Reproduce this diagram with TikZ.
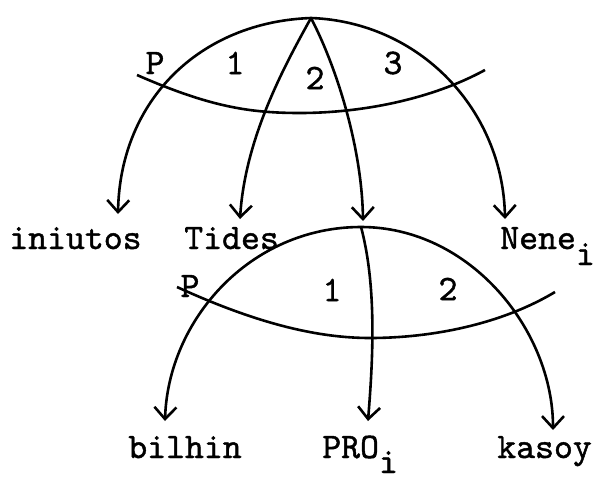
\documentclass[tikz,border=0pt]{standalone}
\usepackage{fontspec}
\newfontfamily\tw{lmmono10-regular}[Extension=.otf,FakeBold=1.2]
\usetikzlibrary{arrows.meta}
\begin{document}
\begin{tikzpicture}[x=1pt,y=-1pt,
  line width=2.6pt,
  arc/.style={draw=black},
  arr/.style={draw=black,-{Straight Barb[length=12pt,width=22pt,line width=2.6pt]}},
  word/.style={inner sep=0pt,anchor=base west,font=\fontsize{36}{38}\selectfont\tw},
  lab/.style={inner sep=0pt,anchor=center,font=\fontsize{36}{38}\selectfont\tw}]
\useasboundingbox (0,0) rectangle (597,477);
% top structure
\coordinate (A) at (311,18);
\coordinate (t1) at (118,214);
\coordinate (t2) at (240,219);
\coordinate (t3) at (363,221);
\coordinate (t4) at (505,219);
\coordinate (c1s) at (137,75);
\coordinate (c1m) at (300,113);
\coordinate (c1e) at (485,70);
\draw[arr] (A) .. controls (200,22) and (120,100) .. (t1);
\draw[arr] (A) .. controls (282,70) and (245,140) .. (t2);
\draw[arr] (A) .. controls (338,70) and (362,150) .. (t3);
\draw[arr] (A) .. controls (420,22) and (503,110) .. (t4);
\draw[arc] (c1s) .. controls (210,107) and (250,113) .. (c1m) .. controls (360,113) and (430,100) .. (c1e);
\node[lab] (p1) at (155,63) {P};
\node[lab] (n11) at (235,63) {1};
\node[lab] (n12) at (315,78) {2};
\node[lab] (n13) at (393,63) {3};
% words row 1
\node[word] (iniutos) at (8,249) {iniutos};
\node[word] (tides) at (183,249) {Tides};
\node[word] (nene) at (499,249) {Nene\raisebox{-16pt}{i}};
% lower structure
\coordinate (B) at (361,227);
\coordinate (b1) at (165,421);
\coordinate (b2) at (368,421);
\coordinate (b3) at (553,430);
\coordinate (c2s) at (177,287);
\coordinate (c2m) at (370,338);
\coordinate (c2e) at (555,292);
\draw[arr] (B) .. controls (250,227) and (168,320) .. (b1);
\draw[arr] (B) .. controls (378,290) and (372,370) .. (b2);
\draw[arr] (B) .. controls (470,227) and (553,330) .. (b3);
\draw[arc] (c2s) .. controls (260,325) and (320,338) .. (c2m) .. controls (430,338) and (500,325) .. (c2e);
\node[lab] (p2) at (190,286) {P};
\node[lab] (n21) at (332,290) {1};
\node[lab] (n22) at (448,289) {2};
% words row 2
\node[word] (bilhin) at (127,458) {bilhin};
\node[word] (pro) at (321,458) {PRO\raisebox{-15pt}{i}};
\node[word] (kasoy) at (496,458) {kasoy};
\end{tikzpicture}
\end{document}
